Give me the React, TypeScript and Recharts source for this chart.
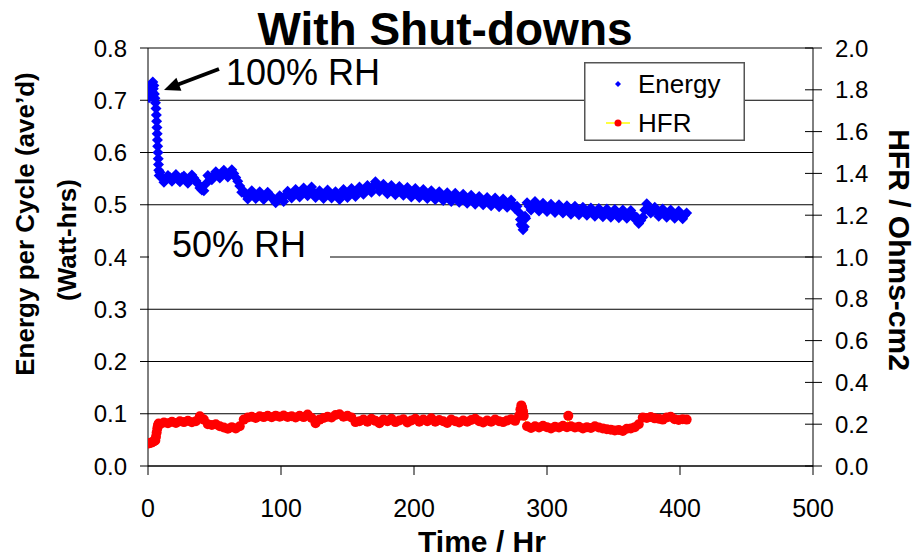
import React from 'react';
import { ComposedChart, Scatter, XAxis, YAxis, CartesianGrid, Legend } from 'recharts';

const FONT = '"Liberation Sans", Arial, Helvetica, sans-serif';

const titleText = 'With Shut-downs';
const xLabel = 'Time / Hr';
const leftLabel1 = 'Energy per Cycle (ave\u2019d)';
const leftLabel2 = '(Watt-hrs)';
const rightLabel = 'HFR / Ohms-cm2';
const seriesNames = ['Energy', 'HFR'];
const annotations = ['100% RH', '50% RH'];

const timeTicks = [0, 100, 200, 300, 400, 500];
const energyTicks = [0, 0.1, 0.2, 0.3, 0.4, 0.5, 0.6, 0.7, 0.8];
const hfrTicks = [0, 0.2, 0.4, 0.6, 0.8, 1.0, 1.2, 1.4, 1.6, 1.8, 2.0];

// shared sampling times (hours)
const hours = [
  9, 12, 15, 18, 21, 24, 27, 30, 33, 36,
  39, 42, 45, 48, 51, 54, 57, 60, 63, 66,
  69, 72, 75, 78, 81, 84, 87, 90, 93, 96,
  99, 102, 105, 108, 111, 114, 117, 120, 123, 126,
  129, 132, 135, 138, 141, 144, 147, 150, 153, 156,
  159, 162, 165, 168, 171, 174, 177, 180, 183, 186,
  189, 192, 195, 198, 201, 204, 207, 210, 213, 216,
  219, 222, 225, 228, 231, 234, 237, 240, 243, 246,
  249, 252, 255, 258, 261, 264, 267, 270, 273, 276,
  279, 282, 285, 288, 291, 294, 297, 300, 303, 306,
  309, 312, 315, 318, 321, 324, 327, 330, 333, 336,
  339, 342, 345, 348, 351, 354, 357, 360, 363, 366,
  369, 372, 375, 378, 381, 384, 387, 390, 393, 396,
  399, 402, 405,
];

const energyValues = [
  0.562, 0.543, 0.556, 0.545, 0.558, 0.544, 0.555, 0.541, 0.557, 0.546,
  0.532, 0.527, 0.556, 0.548, 0.563, 0.551, 0.566, 0.553, 0.567, 0.552,
  0.536, 0.526, 0.511, 0.527, 0.512, 0.525, 0.510, 0.524, 0.513, 0.504,
  0.517, 0.506, 0.526, 0.513, 0.529, 0.515, 0.532, 0.517, 0.534, 0.514,
  0.527, 0.512, 0.528, 0.513, 0.525, 0.510, 0.529, 0.514, 0.531, 0.516,
  0.534, 0.520, 0.537, 0.524, 0.544, 0.526, 0.539, 0.521, 0.537, 0.519,
  0.535, 0.518, 0.533, 0.515, 0.531, 0.514, 0.529, 0.512, 0.527, 0.510,
  0.525, 0.508, 0.523, 0.506, 0.522, 0.505, 0.520, 0.503, 0.518, 0.501,
  0.516, 0.500, 0.514, 0.498, 0.513, 0.496, 0.511, 0.495, 0.509, 0.493,
  0.485, 0.452, 0.504, 0.490, 0.506, 0.488, 0.503, 0.487, 0.501, 0.485,
  0.500, 0.484, 0.498, 0.482, 0.497, 0.481, 0.495, 0.480, 0.494, 0.478,
  0.493, 0.477, 0.492, 0.476, 0.491, 0.475, 0.490, 0.474, 0.489, 0.473,
  0.464, 0.476, 0.502, 0.484, 0.495, 0.478, 0.492, 0.476, 0.490, 0.474,
  0.488, 0.473, 0.484,
];

// intermediate energy readings between the shared sampling times
const energyMidHours = [
  10.5, 13.5, 16.5, 19.5, 22.5, 25.5, 28.5, 31.5, 34.5, 37.5,
  40.5, 43.5, 46.5, 49.5, 52.5, 55.5, 58.5, 61.5, 64.5, 67.5,
  70.5, 73.5, 76.5, 79.5, 82.5, 85.5, 88.5, 91.5, 94.5, 97.5,
  100.5, 103.5, 106.5, 109.5, 112.5, 115.5, 118.5, 121.5, 124.5, 127.5,
  130.5, 133.5, 136.5, 139.5, 142.5, 145.5, 148.5, 151.5, 154.5, 157.5,
  160.5, 163.5, 166.5, 169.5, 172.5, 175.5, 178.5, 181.5, 184.5, 187.5,
  190.5, 193.5, 196.5, 199.5, 202.5, 205.5, 208.5, 211.5, 214.5, 217.5,
  220.5, 223.5, 226.5, 229.5, 232.5, 235.5, 238.5, 241.5, 244.5, 247.5,
  250.5, 253.5, 256.5, 259.5, 262.5, 265.5, 268.5, 271.5, 274.5, 277.5,
  280.5, 283.5, 286.5, 289.5, 292.5, 295.5, 298.5, 301.5, 304.5, 307.5,
  310.5, 313.5, 316.5, 319.5, 322.5, 325.5, 328.5, 331.5, 334.5, 337.5,
  340.5, 343.5, 346.5, 349.5, 352.5, 355.5, 358.5, 361.5, 364.5, 367.5,
  370.5, 373.5, 376.5, 379.5, 382.5, 385.5, 388.5, 391.5, 394.5, 397.5,
  400.5, 403.5,
];
const energyMidValues = [
  0.551, 0.549, 0.552, 0.550, 0.549, 0.552, 0.548, 0.550, 0.551, 0.540,
  0.528, 0.540, 0.552, 0.556, 0.557, 0.559, 0.560, 0.561, 0.560, 0.545,
  0.524, 0.519, 0.520, 0.519, 0.518, 0.517, 0.518, 0.519, 0.510, 0.511,
  0.514, 0.518, 0.520, 0.522, 0.524, 0.525, 0.526, 0.527, 0.524, 0.520,
  0.519, 0.520, 0.521, 0.519, 0.518, 0.520, 0.522, 0.523, 0.525, 0.527,
  0.528, 0.530, 0.532, 0.536, 0.535, 0.533, 0.531, 0.530, 0.529, 0.528,
  0.527, 0.526, 0.525, 0.524, 0.523, 0.522, 0.521, 0.520, 0.519, 0.518,
  0.517, 0.516, 0.515, 0.514, 0.513, 0.512, 0.511, 0.510, 0.509, 0.509,
  0.508, 0.507, 0.506, 0.505, 0.504, 0.503, 0.502, 0.501, 0.500, 0.497,
  0.462, 0.478, 0.497, 0.498, 0.497, 0.496, 0.495, 0.494, 0.493, 0.493,
  0.492, 0.491, 0.490, 0.489, 0.489, 0.488, 0.488, 0.487, 0.487, 0.486,
  0.486, 0.485, 0.485, 0.484, 0.484, 0.483, 0.483, 0.482, 0.482, 0.476,
  0.470, 0.490, 0.494, 0.488, 0.487, 0.486, 0.485, 0.484, 0.483, 0.482,
  0.481, 0.480,
];

const energyStartHours = [
  0.8, 1.2, 1.6, 2, 2.4, 2.8, 3.2, 3.6, 4, 4.4, 4.8, 5.2, 5.6,
  6, 6.3, 6.5, 6.7, 6.9, 7.1, 7.3, 7.5, 7.7, 7.9, 8.1, 8.4,
];
const energyStartValues = [
  0.705, 0.718, 0.712, 0.726, 0.708, 0.731, 0.716, 0.735, 0.722, 0.728, 0.712, 0.704, 0.695,
  0.684, 0.672, 0.660, 0.648, 0.636, 0.624, 0.612, 0.600, 0.588, 0.577, 0.566, 0.556,
];

const energyDipHours = [280, 281, 283, 284];
const energyDipValues = [0.472, 0.460, 0.458, 0.474];

const hfrValues = [
  0.200, 0.208, 0.205, 0.212, 0.206, 0.214, 0.210, 0.216, 0.209, 0.214,
  0.238, 0.222, 0.200, 0.196, 0.200, 0.190, 0.184, 0.178, 0.186, 0.180,
  0.190, 0.222, 0.232, 0.236, 0.230, 0.238, 0.234, 0.240, 0.233, 0.241,
  0.236, 0.242, 0.235, 0.238, 0.232, 0.240, 0.234, 0.246, 0.230, 0.205,
  0.222, 0.230, 0.236, 0.232, 0.244, 0.248, 0.236, 0.240, 0.232, 0.210,
  0.214, 0.222, 0.212, 0.226, 0.216, 0.205, 0.222, 0.214, 0.226, 0.210,
  0.218, 0.224, 0.208, 0.218, 0.226, 0.212, 0.222, 0.214, 0.228, 0.212,
  0.220, 0.214, 0.206, 0.222, 0.214, 0.208, 0.218, 0.212, 0.220, 0.226,
  0.214, 0.208, 0.218, 0.212, 0.222, 0.214, 0.210, 0.218, 0.224, 0.216,
  0.240, 0.262, 0.190, 0.182, 0.190, 0.184, 0.192, 0.186, 0.180, 0.188,
  0.184, 0.192, 0.186, 0.190, 0.184, 0.188, 0.180, 0.186, 0.182, 0.190,
  0.184, 0.180, 0.176, 0.174, 0.170, 0.172, 0.168, 0.178, 0.180, 0.186,
  0.200, 0.232, 0.230, 0.234, 0.228, 0.226, 0.222, 0.232, 0.236, 0.224,
  0.220, 0.224, 0.222,
];

const hfrStartHours = [0.5, 1.5, 2.5, 3.5, 4.5, 5.5, 6, 6.5, 7, 7.5, 8];
const hfrStartValues = [0.108, 0.110, 0.112, 0.115, 0.118, 0.122, 0.140, 0.160, 0.180, 0.195, 0.203];

const hfrExtraHours = [280, 280.7, 281.3, 282.5, 316];
const hfrExtraValues = [0.270, 0.290, 0.280, 0.240, 0.240];

type Pt = { t: number; v: number };
const zip = (h: number[], v: number[]): Pt[] => h.map((t, i) => ({ t, v: v[i] }));
const byTime = (a: Pt, b: Pt) => a.t - b.t;

const energyData = [
  ...zip(energyStartHours, energyStartValues),
  ...zip(hours, energyValues),
  ...zip(energyMidHours, energyMidValues),
  ...zip(energyDipHours, energyDipValues),
].sort(byTime);

const hfrData = [
  ...zip(hfrStartHours, hfrStartValues),
  ...zip(hours, hfrValues),
  ...zip(hfrExtraHours, hfrExtraValues),
].sort(byTime);

const Diamond = (props: any) => {
  const { cx, cy } = props;
  if (cx == null || cy == null) return null;
  const r = 5.5;
  return <path d={`M${cx},${cy - r}L${cx + r},${cy}L${cx},${cy + r}L${cx - r},${cy}Z`} fill="#0000FF" />;
};

const RedDot = (props: any) => {
  const { cx, cy } = props;
  if (cx == null || cy == null) return null;
  return <circle cx={cx} cy={cy} r={5} fill="#FF0000" />;
};

const RightTick = (props: any) => {
  const { x, y, payload } = props;
  return (
    <g>
      <line x1={x - 8} x2={x + 9} y1={y} y2={y} stroke="#000" strokeWidth={1} />
      <text x={x + 22} y={y} dy="0.355em" fontSize={24} fontFamily={FONT} fill="#000">
        {Number(payload.value).toFixed(1)}
      </text>
    </g>
  );
};

const LegendBox = () => (
  <svg width={161} height={79} style={{ display: 'block' }} fontFamily={FONT}>
    <rect x={0.75} y={0.75} width={159.5} height={77.5} fill="#fff" stroke="#555" strokeWidth={1.5} />
    <path d="M34,19 L37,22 L34,25 L31,22Z" fill="#0000FF" />
    <text x={54} y={31} fontSize={26} fill="#000">{seriesNames[0]}</text>
    <line x1={22} x2={46} y1={61} y2={61} stroke="#FFFF00" strokeWidth={1.5} />
    <circle cx={34} cy={61} r={3.5} fill="#FF0000" />
    <text x={54} y={70} fontSize={26} fill="#000">{seriesNames[1]}</text>
  </svg>
);

export default function App() {
  return (
    <div style={{ position: 'absolute', left: 0, top: 0, width: 918, height: 557, background: '#fff' }}>
      <ComposedChart width={918} height={557} margin={{ top: 48, right: 0, bottom: 0, left: 0 }}>
        <CartesianGrid horizontal vertical={false} yAxisId="left" stroke="#000" strokeWidth={1} />
        <XAxis
          type="number"
          dataKey="t"
          domain={[0, 500]}
          ticks={timeTicks}
          interval={0}
          height={91}
          tickSize={9}
          tickMargin={24}
          axisLine={{ stroke: '#000' }}
          tickLine={{ stroke: '#000' }}
          tick={{ fontSize: 25, fill: '#000', fontFamily: FONT }}
          allowDataOverflow
        />
        <YAxis
          yAxisId="left"
          dataKey="v"
          type="number"
          domain={[0, 0.8]}
          ticks={energyTicks}
          interval={0}
          width={148}
          tickSize={8}
          tickMargin={13}
          axisLine={{ stroke: '#000' }}
          tickLine={{ stroke: '#000' }}
          tick={{ fontSize: 24, fill: '#000', fontFamily: FONT }}
          tickFormatter={(v: number) => v.toFixed(1)}
          allowDataOverflow
        />
        <YAxis
          yAxisId="right"
          orientation="right"
          dataKey="v"
          type="number"
          domain={[0, 2]}
          ticks={hfrTicks}
          interval={0}
          width={105}
          tickSize={0}
          tickMargin={0}
          axisLine={{ stroke: '#000' }}
          tickLine={false}
          tick={<RightTick />}
          allowDataOverflow
        />
        <Scatter
          name={seriesNames[1]}
          data={hfrData}
          yAxisId="right"
          fill="#FF0000"
          line={{ stroke: '#FFFF00', strokeWidth: 1 }}
          shape={<RedDot />}
          isAnimationActive={false}
        />
        <Scatter
          name={seriesNames[0]}
          data={energyData}
          yAxisId="left"
          fill="#0000FF"
          shape={<Diamond />}
          isAnimationActive={false}
        />
        <Legend
          layout="horizontal"
          verticalAlign="middle"
          align="center"
          wrapperStyle={{ left: 584, top: 62, width: 161, height: 79, margin: 0, padding: 0 }}
          content={() => <LegendBox />}
        />
      </ComposedChart>
      <svg
        width={918}
        height={557}
        style={{ position: 'absolute', left: 0, top: 0, pointerEvents: 'none' }}
        fontFamily={FONT}
      >
        <text x={445} y={45} textAnchor="middle" fontSize={46} fontWeight="bold" fill="#000">{titleText}</text>
        <text x={226} y={85} fontSize={36} fill="#000">{annotations[0]}</text>
        <line x1={219} y1={69} x2={178} y2={84.5} stroke="#000" strokeWidth={4} />
        <polygon points="164,90 176.4,77.8 181.4,90.8" fill="#000" />
        <rect x={149} y={226} width={181} height={36} fill="#fff" />
        <text x={172} y={257} fontSize={36} fill="#000">{annotations[1]}</text>
        <text transform="translate(34,224) rotate(-90)" textAnchor="middle" fontSize={26} fontWeight="bold" fill="#000">{leftLabel1}</text>
        <text transform="translate(76,240) rotate(-90)" textAnchor="middle" fontSize={26} fontWeight="bold" fill="#000">{leftLabel2}</text>
        <text transform="translate(889,250) rotate(90)" textAnchor="middle" fontSize={30} fontWeight="bold" fill="#000">{rightLabel}</text>
        <text x={482} y={552} textAnchor="middle" fontSize={30} fontWeight="bold" fill="#000">{xLabel}</text>
      </svg>
    </div>
  );
}
